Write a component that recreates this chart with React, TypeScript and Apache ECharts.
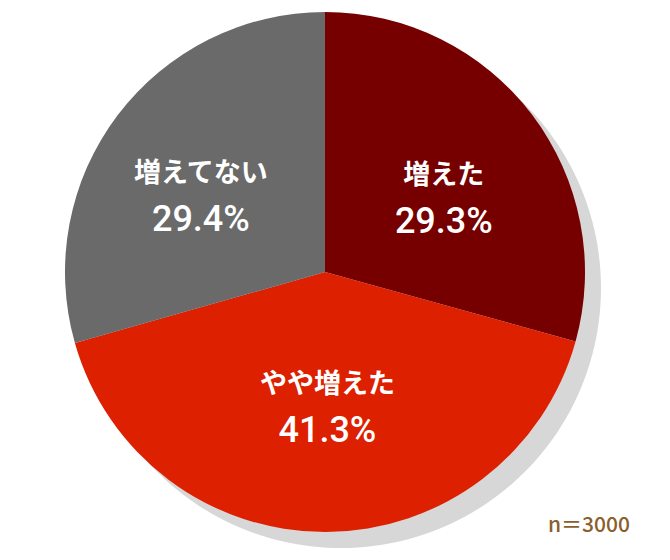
import React, { useEffect, useRef } from "react";
import * as echarts from "echarts";

const categories = ["増えた", "やや増えた", "増えてない"];
const values = [29.3, 41.3, 29.4];
const colors = ["#760000", "#dc2000", "#6a6a6a"];
const labelOffsets = [[13, 6.5], [2, 2.5], [-18, 4.5]];
const sampleNote = "n＝3000";

export default function App() {
  const ref = useRef<HTMLDivElement>(null);
  useEffect(() => {
    if (!ref.current) return;
    const chart = echarts.init(ref.current, null, { renderer: "svg" });
    const data = categories.map((name, i) => ({
      name,
      value: values[i],
      itemStyle: { color: colors[i] },
      label: { offset: labelOffsets[i] },
    }));
    chart.setOption({
      animation: false,
      backgroundColor: "#ffffff",
      graphic: [
        {
          type: "text",
          right: 40,
          bottom: 27,
          style: {
            text: sampleNote,
            fill: "#8b5e2b",
            fontSize: 21,
            fontFamily: "'Noto Sans CJK JP', sans-serif",
            fontWeight: 500,
          },
        },
      ],
      series: [
        {
          type: "pie",
          silent: true,
          z: 1,
          center: [341, 288],
          radius: 260,
          label: { show: false },
          labelLine: { show: false },
          data: [{ name: "shadow", value: 1, itemStyle: { color: "#d7d7d7" } }],
        },
        {
          type: "pie",
          z: 2,
          center: [325, 272],
          radius: 260,
          startAngle: 90,
          clockwise: true,
          labelLine: { show: false },
          label: {
            show: true,
            position: "inside",
            formatter: (p: any) => `{a|${p.name}}\n{b|${p.value.toFixed(1)}%}`,
            rich: {
              a: {
                color: "#ffffff",
                fontSize: 27,
                fontWeight: "bold",
                fontFamily: "'Noto Sans CJK JP', sans-serif",
                lineHeight: 46,
                align: "center",
              },
              b: {
                color: "#ffffff",
                fontSize: 36,
                fontWeight: 500,
                fontFamily: "Roboto, sans-serif",
                lineHeight: 51,
                align: "center",
              },
            },
          },
          data,
        },
      ],
    });
    return () => chart.dispose();
  }, []);
  return (
    <div
      ref={ref}
      style={{ position: "fixed", left: 0, top: 0, width: 670, height: 560 }}
    />
  );
}
